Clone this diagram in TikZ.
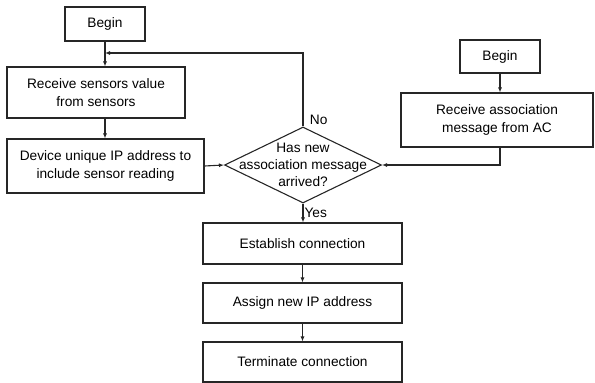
\documentclass[tikz,border=0pt]{standalone}
\usepackage{fontspec}
\setmainfont{Liberation Sans}
\usetikzlibrary{arrows.meta,shapes.geometric,shadows}
\begin{document}
\begin{tikzpicture}[x=1pt, y=-1pt, every node/.style={font=\fontsize{13.7}{17.3}\selectfont},
  box/.style={draw=black!85,line width=1.1pt,fill=white,minimum height=40pt,align=center,inner sep=2pt,
    drop shadow={shadow xshift=1pt,shadow yshift=-1pt,opacity=0.45,fill=black!60}},
  flow/.style={draw=black!85,line width=1.1pt,-{Latex[length=5pt,width=4pt]}}]
\useasboundingbox (0,0) rectangle (595,383);
% left branch
\node[box,minimum width=80pt,minimum height=34pt] (begin1) at (105,24) {Begin};
\node[box,minimum width=178pt,minimum height=51pt] (recv) at (96,92.5) {Receive sensors value\\from sensors};
\node[box,minimum width=197pt,minimum height=54pt] (device) at (105.5,166) {Device unique IP address to\\include sensor reading};
% decision
\node[draw=black!85,line width=1.1pt,diamond,aspect=2.07,inner sep=0pt,minimum width=157pt,minimum height=76pt,
  label={[align=center]center:Has new\\association message\\arrived?}] (decide) at (303,165) {};
% right branch
\node[box,minimum width=80pt,minimum height=33pt] (begin2) at (500,56.5) {Begin};
\node[box,minimum width=192pt,minimum height=54pt] (recvac) at (497,120) {Receive association\\message from AC};
% connection steps
\node[box,minimum width=199pt,minimum height=41pt] (establish) at (302.5,243.5) {Establish connection};
\node[box,minimum width=199pt] (assign) at (302.5,303) {Assign new IP address};
\node[box,minimum width=199pt] (term) at (302.5,362) {Terminate connection};
\coordinate (loop) at (105,53);
\draw[flow] (begin1.south) -- (begin1.south |- recv.north);
\draw[flow] (begin1.south |- recv.south) -- (begin1.south |- device.north);
\draw[flow] (device.east) -- (decide.west);
\draw[flow] (decide.north) |- (loop) node[pos=0.045,right,xshift=3pt] {No};
\draw[flow] (begin2.south) -- (begin2.south |- recvac.north);
\draw[flow] (begin2.south |- recvac.south) |- (decide.east);
\draw[flow] (decide.south) -- (decide.south |- establish.north) node[midway,right,inner sep=1pt] {Yes};
\draw[flow] (establish) -- (assign);
\draw[flow] (assign) -- (term);
\end{tikzpicture}
\end{document}
